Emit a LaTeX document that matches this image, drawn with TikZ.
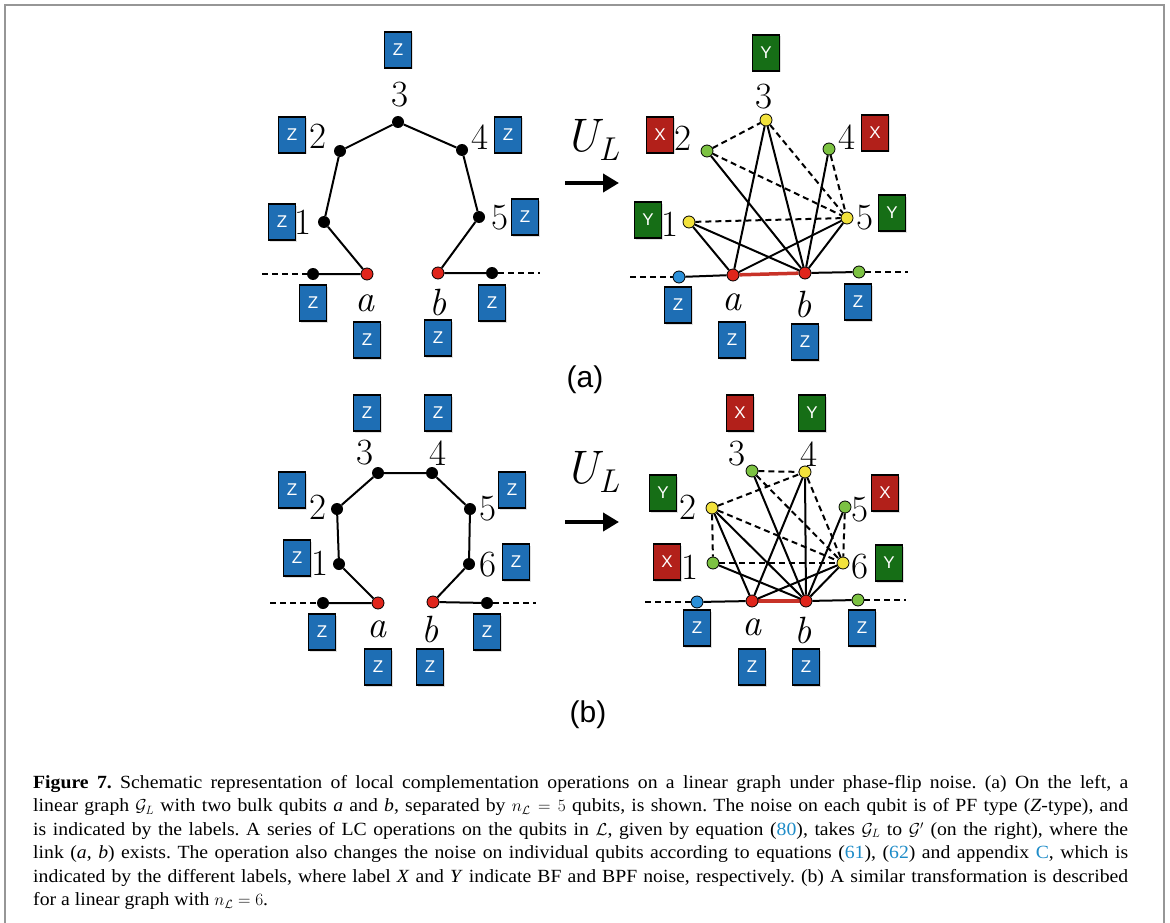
\documentclass[tikz,border=0pt]{standalone}
\usepackage{fontspec}
\setmainfont{Liberation Serif}[FakeStretch=1.06]
\setsansfont{Liberation Sans}
\newfontfamily\lmr{Latin Modern Roman}
\usetikzlibrary{arrows.meta,shadows}
\definecolor{zblue}{RGB}{30,110,180}
\definecolor{xred}{RGB}{178,32,26}
\definecolor{ygreen}{RGB}{22,110,22}
\definecolor{dyel}{RGB}{242,226,60}
\definecolor{dgrn}{RGB}{124,194,66}
\definecolor{dblu}{RGB}{42,143,216}
\definecolor{dred}{RGB}{224,37,27}
\definecolor{lred}{RGB}{200,50,40}
\definecolor{cite}{RGB}{30,140,200}
\definecolor{frame}{RGB}{150,150,150}
\pgfdeclarelayer{back}
\pgfdeclarelayer{bg}
\pgfsetlayers{back,bg,main}
\newcommand{\ulab}{{\itshape U}\raisebox{-9pt}{\fontsize{33}{33}\selectfont\itshape L}}
\tikzset{
  lbox/.style={rectangle, draw=black, line width=1.5pt, minimum width=27pt, minimum height=36pt, inner sep=0pt, text=white,
    font=\sffamily\fontsize{17}{17}\selectfont, drop shadow={opacity=0.25, shadow xshift=1.5pt, shadow yshift=-1.5pt}},
  zb/.style={lbox, fill=zblue},
  xb/.style={lbox, fill=xred},
  yb/.style={lbox, fill=ygreen},
  bd/.style={circle, fill=black, minimum size=12pt, inner sep=0pt},
  qd/.style={circle, draw=black, line width=0.8pt, minimum size=12pt, inner sep=0pt},
  rd/.style={qd, fill=dred},
  yd/.style={qd, fill=dyel},
  gd/.style={qd, fill=dgrn},
  ud/.style={qd, fill=dblu},
  num/.style={inner sep=0pt, font=\lmr\fontsize{37}{37}\selectfont},
  let/.style={num, anchor=base, font=\lmr\itshape\fontsize{38}{38}\selectfont},
  ed/.style={line width=2pt, black},
  dd/.style={line width=2pt, black, dash pattern=on 6pt off 4pt},
  ab/.style={line width=3.5pt, lred},
  ula/.style={inner sep=0pt, font=\lmr\fontsize{47}{47}\selectfont},
  arr/.style={line width=4pt, -{Triangle[length=16pt,width=18pt]}},
  pl/.style={inner sep=0pt, font=\sffamily\fontsize{30}{30}\selectfont},
}
\begin{document}
\begin{tikzpicture}[x=1pt,y=-1pt]
\useasboundingbox (0,0) rectangle (1170,923);
\begin{pgfonlayer}{back}
\fill[white] (0,0) rectangle (1170,923);
\end{pgfonlayer}
% frame
\draw[frame, line width=2pt] (5,923) -- (5,5) -- (1164,5) -- (1164,923);

% ================= (a) left =================
\node[bd] (aL0) at (313,274) {};
\node[rd] (aLa) at (367,274) {};
\node[bd] (aL1) at (324,222) {};
\node[bd] (aL2) at (340,151) {};
\node[bd] (aL3) at (398,122) {};
\node[bd] (aL4) at (462,150) {};
\node[bd] (aL5) at (479,217) {};
\node[rd] (aLb) at (438,273) {};
\node[bd] (aL6) at (492,273) {};
\coordinate (aLl) at (262,274);
\coordinate (aLr) at (540,273);
\begin{pgfonlayer}{bg}
\draw[dd] (aLl) -- (aL0);
\draw[dd] (aL6) -- (aLr);
\draw[ed] (aL0) -- (aLa) -- (aL1) -- (aL2) -- (aL3) -- (aL4) -- (aL5) -- (aLb) -- (aL6);
\end{pgfonlayer}
\node[num] (aLt3) at (400,95) {3};
\node[num] (aLt2) at (318,136) {2};
\node[num] (aLt4) at (480,137) {4};
\node[num] (aLt1) at (303,222) {1};
\node[num] (aLt5) at (500,218) {5};
\node[let] (aLta) at (365,311) {a};
\node[let] (aLtb) at (438,315) {b};
\node[zb] (aLz3) at (398,50) {Z};
\node[zb] (aLz2) at (292,135) {Z};
\node[zb] (aLz4) at (508,135) {Z};
\node[zb] (aLz1) at (282,222) {Z};
\node[zb] (aLz5) at (525,217) {Z};
\node[zb] (aLz0) at (313,303) {Z};
\node[zb] (aLz6) at (492,303) {Z};
\node[zb] (aLza) at (367,340) {Z};
\node[zb] (aLzb) at (438,338) {Z};

% arrow (a)
\node[ula] (aU) at (592,140) {\ulab};
\coordinate (aA1) at (565,183);
\coordinate (aA2) at (619,183);
\draw[arr] (aA1) -- (aA2);

% ================= (a) right =================
\node[yd] (aR3) at (766,120) {};
\node[gd] (aR2) at (707,151) {};
\node[gd] (aR4) at (829,149) {};
\node[yd] (aR1) at (689,222) {};
\node[yd] (aR5) at (847,218) {};
\node[rd] (aRa) at (733,275) {};
\node[rd] (aRb) at (805,273) {};
\node[ud] (aR0) at (679,277) {};
\node[gd] (aR6) at (859,272) {};
\coordinate (aRl) at (630,277);
\coordinate (aRr) at (908,272);
\begin{pgfonlayer}{bg}
\draw[dd] (aRl) -- (aR0);
\draw[dd] (aR6) -- (aRr);
\draw[ed] (aR0) -- (aRa);
\draw[ed] (aRb) -- (aR6);
\draw[ab] (aRa) -- (aRb);
\draw[ed] (aR3) -- (aRa);
\draw[ed] (aR3) -- (aRb);
\draw[ed] (aR2) -- (aRb);
\draw[ed] (aR4) -- (aRb);
\draw[ed] (aR1) -- (aRa);
\draw[ed] (aR1) -- (aRb);
\draw[ed] (aR5) -- (aRa);
\draw[ed] (aR5) -- (aRb);
\draw[dd] (aR2) -- (aR3);
\draw[dd] (aR2) -- (aR5);
\draw[dd] (aR3) -- (aR5);
\draw[dd] (aR4) -- (aR5);
\draw[dd] (aR1) -- (aR5);
\end{pgfonlayer}
\node[num] (aRt3) at (764,97) {3};
\node[num] (aRt2) at (683,138) {2};
\node[num] (aRt4) at (847,137) {4};
\node[num] (aRt1) at (670,224) {1};
\node[num] (aRt5) at (865,218) {5};
\node[let] (aRta) at (732,310) {a};
\node[let] (aRtb) at (803,317) {b};
\node[yb] (aRy3) at (766,53) {Y};
\node[xb] (aRx2) at (660,135) {X};
\node[xb] (aRx4) at (875,133) {X};
\node[yb] (aRy1) at (648,220) {Y};
\node[yb] (aRy5) at (892,213) {Y};
\node[zb] (aRz0) at (678,305) {Z};
\node[zb] (aRza) at (732,340) {Z};
\node[zb] (aRzb) at (805,342) {Z};
\node[zb] (aRz6) at (858,302) {Z};

\node[pl] (lab) at (585,380) {(a)};

% ================= (b) left =================
\node[bd] (bL0) at (323,603) {};
\node[rd] (bLa) at (378,603) {};
\node[bd] (bL1) at (339,564) {};
\node[bd] (bL2) at (337,509) {};
\node[bd] (bL3) at (378,473) {};
\node[bd] (bL4) at (432,473) {};
\node[bd] (bL5) at (470,509) {};
\node[bd] (bL6) at (469,564) {};
\node[rd] (bLb) at (433,602) {};
\node[bd] (bL7) at (487,603) {};
\coordinate (bLl) at (270,603);
\coordinate (bLr) at (536,603);
\begin{pgfonlayer}{bg}
\draw[dd] (bLl) -- (bL0);
\draw[dd] (bL7) -- (bLr);
\draw[ed] (bL0) -- (bLa) -- (bL1) -- (bL2) -- (bL3) -- (bL4) -- (bL5) -- (bL6) -- (bLb) -- (bL7);
\end{pgfonlayer}
\node[num] (bLt3) at (365,453) {3};
\node[num] (bLt4) at (438,453) {4};
\node[num] (bLt2) at (318,507) {2};
\node[num] (bLt5) at (488,509) {5};
\node[num] (bLt1) at (320,563) {1};
\node[num] (bLt6) at (488,565) {6};
\node[let] (bLta) at (377,637) {a};
\node[let] (bLtb) at (430,642) {b};
\node[zb] (bLz3) at (367,413) {Z};
\node[zb] (bLz4) at (438,413) {Z};
\node[zb] (bLz2) at (292,490) {Z};
\node[zb] (bLz5) at (512,490) {Z};
\node[zb] (bLz1) at (297,558) {Z};
\node[zb] (bLz6) at (516,562) {Z};
\node[zb] (bLz0) at (322,632) {Z};
\node[zb] (bLz7) at (487,632) {Z};
\node[zb] (bLza) at (378,667) {Z};
\node[zb] (bLzb) at (430,667) {Z};

% arrow (b)
\node[ula] (bU) at (592,472) {\ulab};
\coordinate (bA1) at (565,522);
\coordinate (bA2) at (619,522);
\draw[arr] (bA1) -- (bA2);

% ================= (b) right =================
\node[gd] (bR3) at (752,471) {};
\node[yd] (bR4) at (805,472) {};
\node[yd] (bR2) at (712,508) {};
\node[gd] (bR5) at (845,507) {};
\node[gd] (bR1) at (713,563) {};
\node[yd] (bR6) at (843,563) {};
\node[rd] (bRa) at (752,601) {};
\node[rd] (bRb) at (806,601) {};
\node[ud] (bR0) at (697,602) {};
\node[gd] (bR7) at (858,600) {};
\coordinate (bRl) at (645,602);
\coordinate (bRr) at (906,600);
\begin{pgfonlayer}{bg}
\draw[dd] (bRl) -- (bR0);
\draw[dd] (bR7) -- (bRr);
\draw[ed] (bR0) -- (bRa);
\draw[ed] (bRb) -- (bR7);
\draw[ab] (bRa) -- (bRb);
\draw[ed] (bR3) -- (bRb);
\draw[ed] (bR4) -- (bRa);
\draw[ed] (bR4) -- (bRb);
\draw[ed] (bR2) -- (bRa);
\draw[ed] (bR2) -- (bRb);
\draw[ed] (bR5) -- (bRb);
\draw[ed] (bR1) -- (bRb);
\draw[ed] (bR6) -- (bRa);
\draw[ed] (bR6) -- (bRb);
\draw[dd] (bR3) -- (bR4);
\draw[dd] (bR2) -- (bR4);
\draw[dd] (bR2) -- (bR1);
\draw[dd] (bR1) -- (bR6);
\draw[dd] (bR5) -- (bR6);
\draw[dd] (bR2) -- (bR6);
\draw[dd] (bR3) -- (bR6);
\draw[dd] (bR4) -- (bR6);
\end{pgfonlayer}
\node[num] (bRt3) at (737,454) {3};
\node[num] (bRt4) at (809,454) {4};
\node[num] (bRt2) at (688,507) {2};
\node[num] (bRt5) at (860,510) {5};
\node[num] (bRt1) at (690,567) {1};
\node[num] (bRt6) at (860,567) {6};
\node[let] (bRta) at (752,635) {a};
\node[let] (bRtb) at (803,643) {b};
\node[xb] (bRx3) at (740,413) {X};
\node[yb] (bRy4) at (812,413) {Y};
\node[yb] (bRy2) at (663,493) {Y};
\node[xb] (bRx5) at (885,493) {X};
\node[xb] (bRx1) at (667,562) {X};
\node[yb] (bRy6) at (889,563) {Y};
\node[zb] (bRz0) at (697,628) {Z};
\node[zb] (bRz7) at (862,628) {Z};
\node[zb] (bRza) at (752,667) {Z};
\node[zb] (bRzb) at (806,667) {Z};

\node[pl] (lbb) at (588,715) {(b)};

% caption
\node[inner sep=0pt, anchor=north west] (cap) at (33,775) {\parbox{1095pt}{\fontsize{18.6}{23.5}\selectfont\frenchspacing\noindent
\textbf{Figure 7.} Schematic representation of local complementation operations on a linear graph under phase-flip noise. (a) On the left, a\linebreak
linear graph $\mathcal{G}_L$ with two bulk qubits \textit{a} and \textit{b}, separated by $n_{\mathcal{L}} = 5$ qubits, is shown. The noise on each qubit is of PF type (\textit{Z}-type), and\linebreak
is indicated by the labels. A series of LC operations on the qubits in $\mathcal{L}$, given by equation (\textcolor{cite}{80}), takes $\mathcal{G}_L$ to $\mathcal{G}'$ (on the right), where the\linebreak
link (\textit{a}, \textit{b}) exists. The operation also changes the noise on individual qubits according to equations (\textcolor{cite}{61}), (\textcolor{cite}{62}) and appendix \textcolor{cite}{C}, which is\linebreak
indicated by the different labels, where label \textit{X} and \textit{Y} indicate BF and BPF noise, respectively. (b) A similar transformation is described\linebreak
for a linear graph with $n_{\mathcal{L}} = 6$.}};
\end{tikzpicture}
\end{document}
